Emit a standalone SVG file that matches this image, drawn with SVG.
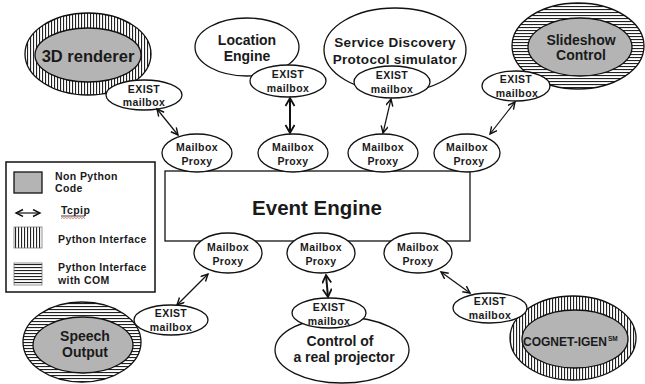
<svg xmlns="http://www.w3.org/2000/svg" width="645" height="384" viewBox="0 0 645 384">
<defs>
<pattern id="vs" width="3" height="3" patternUnits="userSpaceOnUse"><rect width="3" height="3" fill="#fff"/><rect x="0" width="1.1" height="3" fill="#222"/></pattern>
<pattern id="hs" width="3" height="3" patternUnits="userSpaceOnUse"><rect width="3" height="3" fill="#fff"/><rect y="0" width="3" height="1.1" fill="#222"/></pattern>
<marker id="ah" markerWidth="10" markerHeight="10" refX="8" refY="4" orient="auto-start-reverse" markerUnits="userSpaceOnUse"><path d="M1,0.5 L8,4 L1,7.5" fill="none" stroke="#111" stroke-width="1.4"/></marker>
<marker id="ahb" markerWidth="12" markerHeight="12" refX="9" refY="5" orient="auto-start-reverse" markerUnits="userSpaceOnUse"><path d="M1,0.5 L9,5 L1,9.5" fill="none" stroke="#111" stroke-width="1.8"/></marker>
<style>
.o{stroke:#111;stroke-width:1.3}
.w{fill:#fff;stroke:#111;stroke-width:1.3}
.g{fill:#b4b4b4;stroke:#111;stroke-width:1.3}
.t{font-family:"Liberation Sans",Arial,sans-serif;font-weight:bold;fill:#1a1a1a;text-anchor:middle}
.big{font-size:14px}
.sm{font-size:10.5px;letter-spacing:0.4px}
.lg{font-family:"Liberation Sans",Arial,sans-serif;font-weight:bold;fill:#1a1a1a;font-size:10.5px;letter-spacing:0.4px}
.c{fill:none;stroke:#111;stroke-width:1.2}
.cb{fill:none;stroke:#111;stroke-width:2}
</style>
</defs>
<rect width="645" height="384" fill="#fff"/>

<g id="event-engine">
<rect x="165" y="171" width="305" height="70" class="w"/>
<text x="317" y="215" class="t" font-size="20.5">Event Engine</text>
</g>

<g id="renderer-3d">
<ellipse cx="88" cy="54" rx="63" ry="41" fill="url(#vs)" class="o"/>
<ellipse cx="88" cy="55" rx="53" ry="27" class="g"/>
<text x="88" y="62" class="t" font-size="16.5">3D renderer</text>
</g>

<g id="location-engine">
<ellipse cx="247" cy="47" rx="52" ry="29" class="w"/>
<text x="247" y="45" class="t big">Location</text>
<text x="247" y="61" class="t big">Engine</text>
</g>

<g id="sdp-simulator">
<ellipse cx="395" cy="50" rx="71" ry="42" class="w"/>
<text x="395" y="47" class="t" font-size="13.5" letter-spacing="0.3">Service Discovery</text>
<text x="395" y="64" class="t" font-size="13.5" letter-spacing="0.3">Protocol simulator</text>
</g>

<g id="slideshow-control">
<ellipse cx="578" cy="46" rx="66" ry="43" fill="url(#hs)" class="o"/>
<ellipse cx="580" cy="47" rx="52" ry="29" class="g"/>
<text x="581" y="45" class="t big">Slideshow</text>
<text x="581" y="60" class="t big">Control</text>
</g>

<g id="speech-output">
<ellipse cx="82" cy="342" rx="59" ry="40" fill="url(#hs)" class="o"/>
<ellipse cx="83" cy="345" rx="50" ry="28" class="g"/>
<text x="85" y="341" class="t big">Speech</text>
<text x="85" y="357" class="t big">Output</text>
</g>

<g id="projector-control">
<ellipse cx="342" cy="350" rx="67" ry="33" class="w"/>
<text x="340" y="346" class="t big">Control of</text>
<text x="344" y="362" class="t big">a real projector</text>
</g>

<g id="cognet-igen">
<ellipse cx="573" cy="338" rx="63" ry="42" fill="url(#vs)" class="o"/>
<ellipse cx="575" cy="339" rx="53" ry="29" class="g"/>
<text x="565" y="346" class="t" font-size="12">COGNET-IGEN</text>
<text x="608" y="341" class="t" font-size="6.5" text-anchor="start" style="text-anchor:start">SM</text>
</g>

<g id="mailbox-3d">
<ellipse cx="144" cy="95" rx="38" ry="15" class="w"/>
<text x="144" y="93" class="t sm">EXIST</text>
<text x="144" y="106" class="t sm">mailbox</text>
</g>
<g id="mailbox-location">
<ellipse cx="288" cy="81" rx="38" ry="16" class="w"/>
<text x="288" y="78" class="t sm">EXIST</text>
<text x="288" y="92" class="t sm">mailbox</text>
</g>
<g id="mailbox-sdp">
<ellipse cx="392" cy="82" rx="38" ry="16" class="w"/>
<text x="392" y="79" class="t sm">EXIST</text>
<text x="392" y="93" class="t sm">mailbox</text>
</g>
<g id="mailbox-slideshow">
<ellipse cx="516" cy="86" rx="34" ry="15" class="w"/>
<text x="516" y="83" class="t sm">EXIST</text>
<text x="517" y="97" class="t sm">mailbox</text>
</g>
<g id="mailbox-speech">
<ellipse cx="171" cy="320" rx="37" ry="15" class="w"/>
<text x="171" y="317" class="t sm">EXIST</text>
<text x="171" y="331" class="t sm">mailbox</text>
</g>
<g id="mailbox-projector">
<ellipse cx="329" cy="313" rx="37" ry="15" class="w"/>
<text x="329" y="311" class="t sm">EXIST</text>
<text x="329" y="325" class="t sm">mailbox</text>
</g>
<g id="mailbox-cognet">
<ellipse cx="490" cy="308" rx="37" ry="15" class="w"/>
<text x="490" y="305" class="t sm">EXIST</text>
<text x="490" y="319" class="t sm">mailbox</text>
</g>

<g id="proxy-top-1">
<ellipse cx="197" cy="153" rx="35" ry="19" class="w"/>
<text x="197" y="151" class="t sm">Mailbox</text>
<text x="197" y="165" class="t sm">Proxy</text>
</g>
<g id="proxy-top-2">
<ellipse cx="293" cy="153" rx="35" ry="19" class="w"/>
<text x="293" y="151" class="t sm">Mailbox</text>
<text x="293" y="165" class="t sm">Proxy</text>
</g>
<g id="proxy-top-3">
<ellipse cx="383" cy="153" rx="35" ry="19" class="w"/>
<text x="383" y="151" class="t sm">Mailbox</text>
<text x="383" y="165" class="t sm">Proxy</text>
</g>
<g id="proxy-top-4">
<ellipse cx="467" cy="153" rx="33" ry="19" class="w"/>
<text x="467" y="151" class="t sm">Mailbox</text>
<text x="469" y="165" class="t sm">Proxy</text>
</g>
<g id="proxy-bottom-1">
<ellipse cx="228" cy="253" rx="34" ry="20" class="w"/>
<text x="228" y="251" class="t sm">Mailbox</text>
<text x="228" y="265" class="t sm">Proxy</text>
</g>
<g id="proxy-bottom-2">
<ellipse cx="321" cy="253" rx="34" ry="20" class="w"/>
<text x="321" y="251" class="t sm">Mailbox</text>
<text x="321" y="265" class="t sm">Proxy</text>
</g>
<g id="proxy-bottom-3">
<ellipse cx="418" cy="253" rx="34" ry="20" class="w"/>
<text x="418" y="251" class="t sm">Mailbox</text>
<text x="418" y="265" class="t sm">Proxy</text>
</g>

<g id="connectors">
<line x1="157" y1="109" x2="178" y2="135" class="c" marker-start="url(#ah)" marker-end="url(#ah)"/>
<line x1="290" y1="98" x2="290" y2="133" class="cb" marker-start="url(#ahb)" marker-end="url(#ahb)"/>
<line x1="391" y1="99" x2="383" y2="133" class="c" marker-start="url(#ah)" marker-end="url(#ah)"/>
<line x1="515" y1="102" x2="490" y2="134" class="c" marker-start="url(#ah)" marker-end="url(#ah)"/>
<line x1="177" y1="305" x2="208" y2="274" class="c" marker-start="url(#ah)" marker-end="url(#ah)"/>
<line x1="326" y1="275" x2="328" y2="297" class="cb" marker-start="url(#ahb)" marker-end="url(#ahb)"/>
<line x1="441" y1="272" x2="470" y2="293" class="c" marker-start="url(#ah)" marker-end="url(#ah)"/>
</g>

<g id="legend">
<rect x="6" y="162" width="149" height="130" fill="#fff" stroke="#111" stroke-width="1.5"/>
<rect x="14" y="172" width="28" height="21" class="g"/>
<text x="55" y="180" class="lg">Non Python</text>
<text x="55" y="192" class="lg">Code</text>
<line x1="16" y1="213" x2="40" y2="213" class="c" marker-start="url(#ah)" marker-end="url(#ah)"/>
<text x="61" y="214" class="lg">Tcpip</text>
<line x1="61" y1="216" x2="85" y2="216" stroke="#111" stroke-width="0.8"/>
<path d="M61,218.5 l1.5,-1 l1.5,1 l1.5,-1 l1.5,1 l1.5,-1 l1.5,1 l1.5,-1 l1.5,1 l1.5,-1 l1.5,1 l1.5,-1 l1.5,1 l1.5,-1 l1.5,1 l1.5,-1 l1.5,1" fill="none" stroke="#d04040" stroke-width="0.7"/>
<rect x="14" y="227" width="28" height="21" fill="url(#vs)" stroke="#777" stroke-width="0.8"/>
<text x="58" y="243" class="lg">Python Interface</text>
<rect x="14" y="263" width="28" height="22" fill="url(#hs)" stroke="#777" stroke-width="0.8"/>
<text x="58" y="271" class="lg">Python Interface</text>
<text x="58" y="284" class="lg">with COM</text>
</g>
</svg>
